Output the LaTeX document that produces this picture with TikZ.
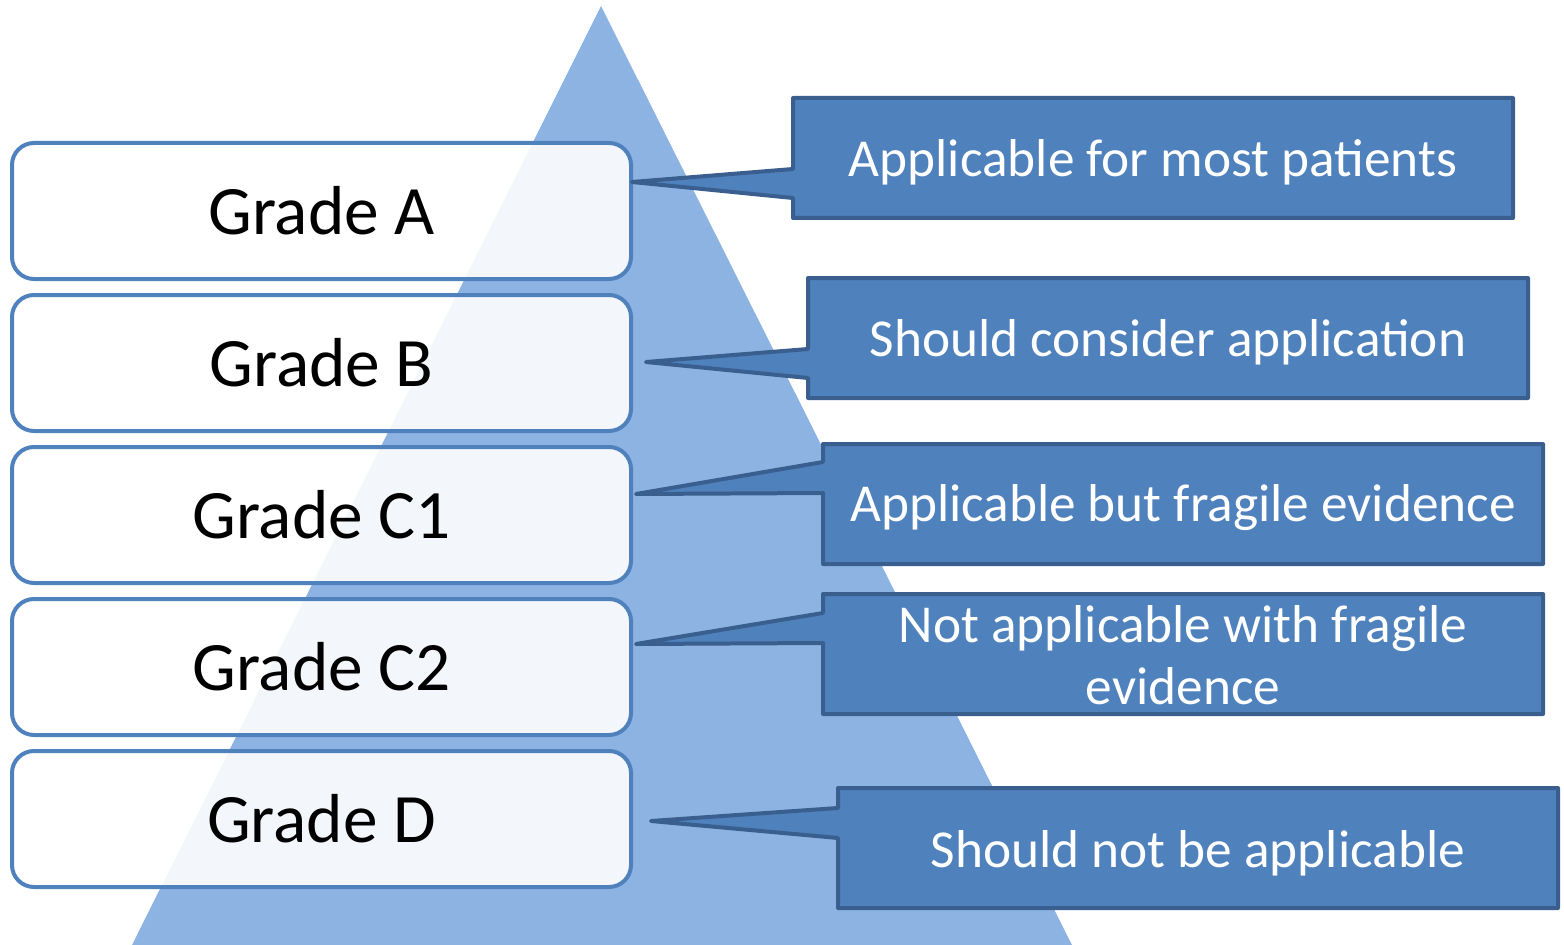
\documentclass[tikz,border=0pt]{standalone}
\usepackage{fontspec}
\setmainfont{Carlito}
\definecolor{tri}{HTML}{8DB3E2}
\definecolor{boxline}{HTML}{4F81BD}
\definecolor{callfill}{HTML}{4F81BD}
\definecolor{callline}{HTML}{3A5F8E}
\newcommand\mycallout[9]{%
  \filldraw[callshape] (#2,#3) -- (#4,#3) -- (#4,#5) -- (#2,#5) -- (#2,#9) -- (#6) -- (#2,#8) -- cycle;
}
\begin{document}
\begin{tikzpicture}[x=0.75pt,y=-0.75pt,
  gradebox/.style={draw=boxline, line width=3pt, fill=white, fill opacity=0.9, text opacity=1,
    rounded corners=16.5pt, minimum width=464.25pt, minimum height=102pt, inner sep=0pt,
    font=\fontsize{52}{62}\selectfont},
  callshape/.style={fill=callfill, draw=callline, line width=3pt, line join=round},
  calltext/.style={text=white, align=center, inner sep=0pt, font=\fontsize{40}{47}\selectfont}]
\useasboundingbox (0,0) rectangle (1564,945);
\fill[tri] (601,6) -- (1072,945) -- (132,945) -- cycle;
% grade boxes
\node[gradebox] (ga) at (321.5,211) {Grade A};
\node[gradebox] (gb) at (321.5,363) {Grade B};
\node[gradebox] (gc1) at (321.5,515) {Grade C1};
\node[gradebox] (gc2) at (321.5,667) {Grade C2};
\node[gradebox] (gd) at (321.5,819) {Grade D};
% tips
\coordinate (t1) at (632,182);
\coordinate (t2) at (646,362);
\coordinate (t3) at (636,494);
\coordinate (t4) at (636,644);
\coordinate (t5) at (651,821);
% callouts
\mycallout{c1}{793}{98}{1513}{218}{t1}{}{169}{198}
\mycallout{c2}{808}{278}{1528}{398}{t2}{}{349}{378}
\mycallout{c3}{823}{444}{1543}{564}{t3}{}{462}{493}
\mycallout{c4}{823}{594}{1543}{714}{t4}{}{613}{643}
\mycallout{c5}{838}{788}{1558}{908}{t5}{}{808}{838}
\node[calltext] (c1) at (1153,162) {Applicable for most patients};
\node[calltext] (c2) at (1168,342) {Should consider application};
\node[calltext] (c3) at (1183,508) {Applicable but fragile evidence};
\node[calltext] (c4) at (1183,655) {Not applicable with fragile\\evidence};
\node[calltext] (c5) at (1198,853) {Should not be applicable};
\end{tikzpicture}
\end{document}
